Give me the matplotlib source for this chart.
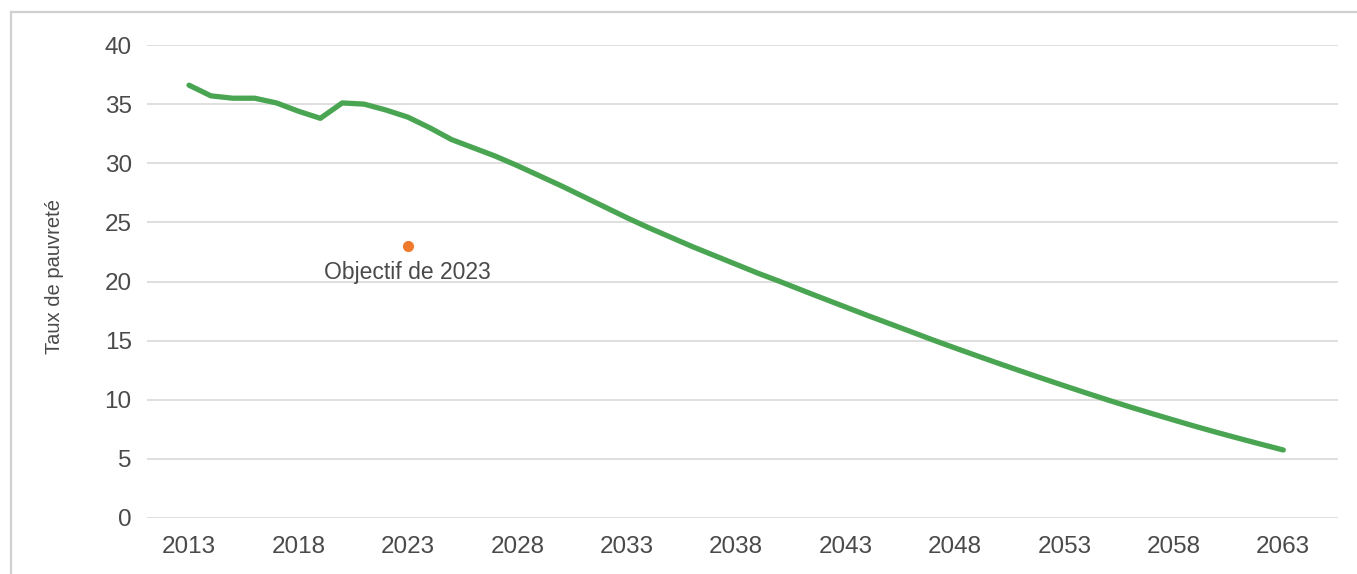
import matplotlib.pyplot as plt
from matplotlib.lines import Line2D

# Poverty rate by year
years = list(range(2013, 2064))
rates = [36.6, 35.7, 35.5, 35.5, 35.1, 34.4, 33.8, 35.1, 35.0, 34.5,
         33.9, 33.0, 32.0, 31.3, 30.6, 29.8, 28.95, 28.1, 27.2, 26.3,
         25.4, 24.55, 23.75, 22.95, 22.2, 21.45, 20.7, 20.0, 19.27, 18.55,
         17.84, 17.13, 16.44, 15.75, 15.05, 14.38, 13.72, 13.07, 12.43, 11.8,
         11.18, 10.57, 9.97, 9.39, 8.83, 8.28, 7.74, 7.22, 6.72, 6.23,
         5.75]

target_year = 2023
target_rate = 23.0
target_label = 'Objectif de 2023'

x_ticks = list(range(2013, 2064, 5))
y_ticks = list(range(0, 41, 5))

text_color = '#4a4a4a'
grid_color = '#d9d9d9'
plt.rcParams['font.family'] = ['Liberation Sans', 'DejaVu Sans']

fig = plt.figure(figsize=(13.57, 5.74), dpi=100)
ax = fig.add_axes([147 / 1357, 56 / 574, 1191 / 1357, 473 / 574])

ax.plot(years, rates, color='#4aa552', linewidth=3.8, solid_capstyle='round',
        solid_joinstyle='round', zorder=3)
ax.plot([target_year], [target_rate], 'o', color='#ef7a2c', markersize=7, zorder=4)
ax.annotate(target_label, (target_year, target_rate), xytext=(0, -15),
            textcoords='offset pixels', ha='center', va='top',
            fontsize=16.5, color=text_color)

ax.set_xlim(2011.08, 2065.5)
ax.set_ylim(0, 40)
ax.set_xticks(x_ticks)
ax.set_yticks(y_ticks)
ax.tick_params(axis='both', length=0, labelsize=17.5, labelcolor=text_color)
ax.tick_params(axis='y', pad=11)
ax.tick_params(axis='x', pad=13)
ax.grid(axis='y', color=grid_color, linewidth=1.2)
ax.set_axisbelow(True)
for side in ['top', 'right', 'left', 'bottom']:
    ax.spines[side].set_visible(False)

ax.set_ylabel('Taux de pauvreté', fontsize=14.5, color=text_color)
ax.yaxis.set_label_coords(-0.07, 0.51)

# outer frame (chart box cropped on right and bottom)
fig.add_artist(Line2D([11 / 1357, 1], [1 - 12 / 574, 1 - 12 / 574],
                      transform=fig.transFigure, color='#d0d0d0', linewidth=1.6))
fig.add_artist(Line2D([11 / 1357, 11 / 1357], [0, 1 - 12 / 574],
                      transform=fig.transFigure, color='#d0d0d0', linewidth=1.6))

fig.savefig('out.png', dpi=100)
